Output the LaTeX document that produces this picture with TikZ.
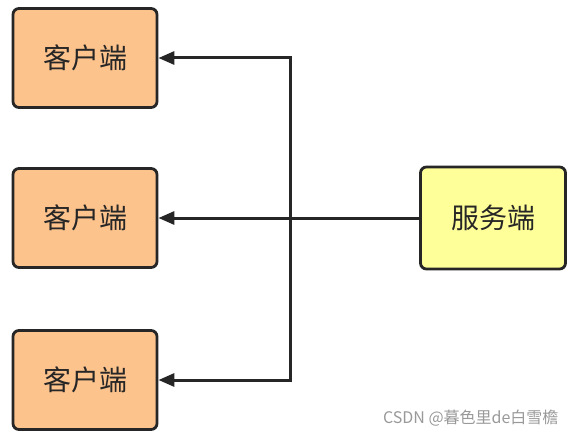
\documentclass[tikz,border=0pt]{standalone}
\usepackage{fontspec}
\setmainfont{Noto Sans CJK SC}
\usetikzlibrary{arrows.meta}
\definecolor{clientfill}{HTML}{FCC38D}
\definecolor{serverfill}{HTML}{FFFF99}
\definecolor{edgegray}{HTML}{262626}
\tikzset{
  box/.style={draw=edgegray, line width=2.8pt, rounded corners=6pt, minimum width=144pt, minimum height=99pt, inner sep=0pt, font=\fontsize{28}{32}\selectfont, text=edgegray},
  client/.style={box, fill=clientfill},
  server/.style={box, fill=serverfill},
  link/.style={draw=edgegray, line width=3pt, -{Triangle[length=16pt,width=13pt]}}
}
\begin{document}
\begin{tikzpicture}[x=1pt,y=-1pt]
  \useasboundingbox (0,0) rectangle (576,436);
  % Clients
  \node[client] (c1) at (85,58) {客户端};
  \node[client] (c2) at (85,218) {客户端};
  \node[client] (c3) at (85,380) {客户端};
  % Server
  \node[server, minimum width=145pt, minimum height=102pt] (srv) at (493,218) {服务端};
  % Connections
  \coordinate (split) at (290,218);
  \draw[link] (srv) -- (c2);
  \draw[link] (split) |- (c1);
  \draw[link] (split) |- (c3);
  % Watermark
  \node[anchor=east, text=gray!80, font=\fontsize{16}{18}\selectfont] (mark) at (562,418) {CSDN @暮色里de白雪檐};
\end{tikzpicture}
\end{document}
